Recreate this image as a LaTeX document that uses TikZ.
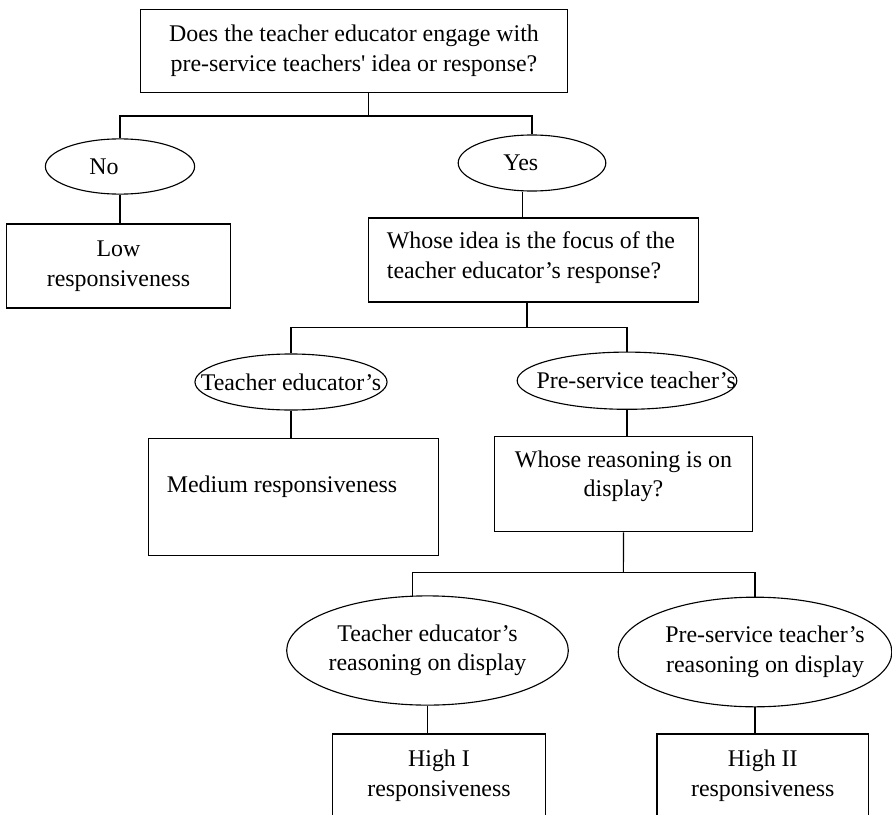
\documentclass[tikz,border=0pt]{standalone}
\usepackage{fontspec}
\setmainfont{Liberation Serif}
\usetikzlibrary{shapes.geometric,positioning,calc}

\begin{document}
\begin{tikzpicture}[x=0.025cm,y=-0.025cm,line width=0.8pt,font=\fontsize{17}{21}\selectfont,
  box/.style={draw,rectangle,align=center,inner sep=0pt},
  oval/.style={draw,ellipse,inner sep=0pt}]
\useasboundingbox (0,0) rectangle (892,814);
\clip (0,0) rectangle (892,814);
\node[box,minimum width=10.68cm,minimum height=2.09cm] (engage) at (354,51) {Does the teacher educator engage with\\pre-service teachers\textquotesingle{} idea or response?};
\node[oval,minimum width=3.73cm,minimum height=1.38cm,label={[xshift=-0.4cm]center:No}] (no) at (120,166.5) {};
\node[oval,minimum width=3.69cm,minimum height=1.4cm,label={[xshift=-0.28cm]center:Yes}] (yes) at (532,163) {};
\node[box,minimum width=5.58cm,minimum height=2.1cm] (low) at (118.5,266) {Low\\responsiveness};
\node[box,minimum width=8.25cm,minimum height=2.1cm,label={[anchor=west,inner sep=0pt,align=left,xshift=0.46cm,yshift=0.06cm]west:Whose idea is the focus of the\\teacher educator’s response?}] (focus) at (533.5,260) {};
\node[oval,minimum width=4.8cm,minimum height=1.4cm,label=center:Teacher educator’s] (te) at (291,382) {};
\node[oval,minimum width=5.49cm,minimum height=1.43cm,label={[xshift=0.23cm]center:Pre-service teacher’s}] (pst) at (627,380.7) {};
\node[box,minimum width=7.25cm,minimum height=2.92cm,label={[anchor=west,inner sep=0pt,xshift=0.46cm,yshift=0.24cm]west:Medium responsiveness}] (medium) at (293.5,496.7) {};
\node[box,minimum width=6.43cm,minimum height=2.38cm,label={[align=center,yshift=0.2cm]center:Whose reasoning is on\\display?}] (display) at (623.5,484.2) {};
\node[oval,minimum width=7.04cm,minimum height=2.73cm,label={[align=center]center:Teacher educator’s\\reasoning on display}] (tr) at (427.5,650.5) {};
\node[oval,minimum width=6.84cm,minimum height=2.74cm,label={[align=center,xshift=0.25cm]center:Pre-service teacher’s\\reasoning on display}] (pr) at (755,652) {};
\node[box,minimum width=5.32cm,minimum height=2.1cm] (high1) at (439,776) {High I\\responsiveness};
\node[box,minimum width=5.29cm,minimum height=2.1cm] (high2) at (762.8,776) {High II\\responsiveness};
\coordinate (j1) at (368.6,116);
\coordinate (j2) at (527,327.7);
\coordinate (j3) at (623.4,572.7);
\draw (engage.south -| j1) -- (j1);
\draw (no.north) |- (j1) -| (yes.north);
\draw (no.south) -- (no.south |- low.north);
\draw ([xshift=-0.23cm]yes.south) -- ([xshift=-0.23cm]yes.south |- focus.north);
\draw (focus.south -| j2) -- (j2);
\draw (te.north) |- (j2) -| (pst.north);
\draw (te.south) -- (te.south |- medium.north);
\draw (pst.south) -- (pst.south |- display.north);
\draw (display.south) -- (j3);
\draw (tr.105) |- (j3) -| (pr.north);
\draw (tr.south) -- (tr.south |- high1.north);
\draw (pr.south) -- (pr.south |- high2.north);
\end{tikzpicture}
\end{document}
